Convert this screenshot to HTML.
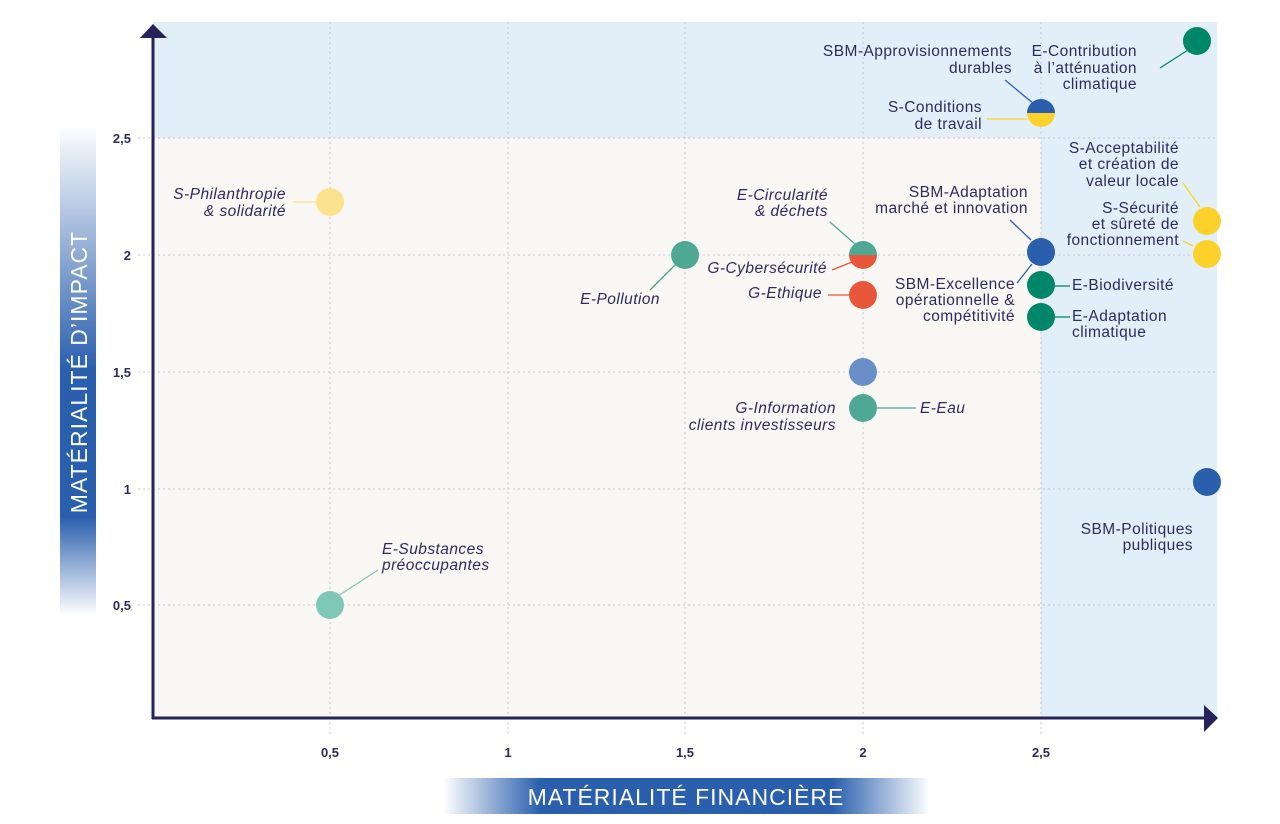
<!DOCTYPE html>
<html><head><meta charset="utf-8"><style>
html,body{margin:0;padding:0;background:#fff;}
svg{display:block;font-family:"Liberation Sans",sans-serif;}
.l{font-size:15.5px;fill:#2e2b5c;letter-spacing:0.45px;}
.i{font-style:italic;}
.t{font-size:13px;font-weight:bold;fill:#2e2b5c;}
</style></head><body>
<svg width="1280" height="824" viewBox="0 0 1280 824">
<defs>
<linearGradient id="gy" x1="0" y1="0" x2="0" y2="1">
<stop offset="0" stop-color="#fff"/><stop offset="0.5" stop-color="#2a5fae"/><stop offset="0.8" stop-color="#2a5fae"/><stop offset="1" stop-color="#fff"/>
</linearGradient>
<linearGradient id="gx" x1="0" y1="0" x2="1" y2="0">
<stop offset="0" stop-color="#fff"/><stop offset="0.2" stop-color="#2a5fae"/><stop offset="0.8" stop-color="#2a5fae"/><stop offset="1" stop-color="#fff"/>
</linearGradient>
</defs>
<rect x="153" y="22" width="1064" height="696" fill="#f8f7f4"/>
<rect x="153" y="22" width="1064" height="116" fill="#e2eef8"/>
<rect x="1041" y="22" width="176" height="696" fill="#e2eef8"/>
<g stroke="#c4c4d6" stroke-width="1" stroke-dasharray="2,3">
<line x1="138" y1="138" x2="1217" y2="138"/>
<line x1="138" y1="255" x2="1217" y2="255"/>
<line x1="138" y1="372" x2="1217" y2="372"/>
<line x1="138" y1="489" x2="1217" y2="489"/>
<line x1="138" y1="605" x2="1217" y2="605"/>
<line x1="330" y1="22" x2="330" y2="735"/>
<line x1="508" y1="22" x2="508" y2="735"/>
<line x1="685" y1="22" x2="685" y2="735"/>
<line x1="863" y1="22" x2="863" y2="735"/>
<line x1="1041" y1="22" x2="1041" y2="735"/>
</g>
<line x1="153" y1="34" x2="153" y2="719" stroke="#26235a" stroke-width="3"/>
<polygon points="140,38 153,24 167,38" fill="#26235a"/>
<line x1="152" y1="718" x2="1206" y2="718" stroke="#26235a" stroke-width="3"/>
<polygon points="1204,705 1218,718 1204,732" fill="#26235a"/>
<g class="t" text-anchor="end">
<text x="131" y="143">2,5</text><text x="131" y="260">2</text><text x="131" y="377">1,5</text><text x="131" y="494">1</text><text x="131" y="610">0,5</text>
</g>
<g class="t" text-anchor="middle">
<text x="330" y="757">0,5</text><text x="508" y="757">1</text><text x="685" y="757">1,5</text><text x="863" y="757">2</text><text x="1041" y="757">2,5</text>
</g>
<rect x="60" y="125" width="36" height="490" fill="url(#gy)"/>
<text transform="translate(87,372) rotate(-90)" text-anchor="middle" font-size="23" letter-spacing="1" fill="#fff">MATÉRIALITÉ D’IMPACT</text>
<rect x="443" y="778" width="487" height="36" fill="url(#gx)"/>
<text x="686" y="805" text-anchor="middle" font-size="23" letter-spacing="1" fill="#fff">MATÉRIALITÉ FINANCIÈRE</text>
<g stroke-width="1.3" fill="none">
<line x1="293" y1="202" x2="318" y2="202" stroke="#fbe38e"/>
<line x1="378" y1="570" x2="338" y2="596" stroke="#7fc8b8"/>
<line x1="650" y1="290" x2="676" y2="264" stroke="#4fa894"/>
<line x1="830" y1="222" x2="855" y2="244" stroke="#4fa894"/>
<line x1="832" y1="270" x2="852" y2="262" stroke="#e8573a"/>
<line x1="828" y1="295" x2="849" y2="295" stroke="#e8573a"/>
<line x1="877" y1="408" x2="916" y2="408" stroke="#4fa894"/>
<line x1="1005" y1="80" x2="1034" y2="104" stroke="#2a5fae"/>
<line x1="987" y1="119" x2="1027" y2="119" stroke="#fcd22a"/>
<line x1="1160" y1="68" x2="1188" y2="50" stroke="#00876a"/>
<line x1="1010" y1="220" x2="1031" y2="240" stroke="#2a5fae"/>
<line x1="1017" y1="283" x2="1032" y2="264" stroke="#2a5fae"/>
<line x1="1055" y1="286" x2="1070" y2="286" stroke="#00876a"/>
<line x1="1055" y1="317" x2="1070" y2="317" stroke="#00876a"/>
<line x1="1183" y1="183" x2="1200" y2="207" stroke="#fcd22a"/>
<line x1="1183" y1="241" x2="1193" y2="246" stroke="#fcd22a"/>
</g>
<circle cx="330" cy="202" r="14" fill="#fbe38e"/>
<circle cx="330" cy="605" r="14" fill="#7fc8b8"/>
<circle cx="685" cy="255" r="14" fill="#4fa894"/>
<path d="M849,255 A14,14 0 0 1 877,255 Z" fill="#4fa894"/>
<path d="M849,255 A14,14 0 0 0 877,255 Z" fill="#e8573a"/>
<circle cx="863" cy="295" r="14" fill="#e8573a"/>
<circle cx="863" cy="372" r="14" fill="#6a8fc8"/>
<circle cx="863" cy="408" r="14" fill="#4fa894"/>
<path d="M1027,113 A14,14 0 0 1 1055,113 Z" fill="#2a5fae"/>
<path d="M1027,113 A14,14 0 0 0 1055,113 Z" fill="#fcd22a"/>
<circle cx="1041" cy="252" r="14" fill="#2a5fae"/>
<circle cx="1041" cy="285" r="14" fill="#00876a"/>
<circle cx="1041" cy="317" r="14" fill="#00876a"/>
<circle cx="1197" cy="41" r="14" fill="#00876a"/>
<circle cx="1207" cy="221" r="14" fill="#fcd22a"/>
<circle cx="1207" cy="254" r="14" fill="#fcd22a"/>
<circle cx="1207" cy="482" r="14" fill="#2a5fae"/>
<g class="l i" text-anchor="end">
<text x="286" y="199">S-Philanthropie</text><text x="286" y="216">&amp; solidarité</text>
<text x="660" y="304">E-Pollution</text>
<text x="828" y="200">E-Circularité</text><text x="828" y="216">&amp; déchets</text>
<text x="827" y="273">G-Cybersécurité</text>
<text x="822" y="298">G-Ethique</text>
<text x="836" y="413">G-Information</text><text x="836" y="430">clients investisseurs</text>
</g>
<g class="l i">
<text x="382" y="554">E-Substances</text><text x="382" y="570">préoccupantes</text>
<text x="920" y="413">E-Eau</text>
</g>
<g class="l" text-anchor="end">
<text x="1012" y="56">SBM-Approvisionnements</text><text x="1012" y="73">durables</text>
<text x="982" y="112">S-Conditions</text><text x="982" y="129">de travail</text>
<text x="1137" y="56">E-Contribution</text><text x="1137" y="73">à l’atténuation</text><text x="1137" y="89">climatique</text>
<text x="1028" y="197">SBM-Adaptation</text><text x="1028" y="213">marché et innovation</text>
<text x="1015" y="289">SBM-Excellence</text><text x="1015" y="305">opérationnelle &amp;</text><text x="1015" y="321">compétitivité</text>
<text x="1179" y="153">S-Acceptabilité</text><text x="1179" y="169">et création de</text><text x="1179" y="186">valeur locale</text>
<text x="1179" y="213">S-Sécurité</text><text x="1179" y="229">et sûreté de</text><text x="1179" y="245">fonctionnement</text>
<text x="1193" y="534">SBM-Politiques</text><text x="1193" y="550">publiques</text>
</g>
<g class="l">
<text x="1072" y="290">E-Biodiversité</text>
<text x="1072" y="321">E-Adaptation</text><text x="1072" y="337">climatique</text>
</g>
</svg>
</body></html>
